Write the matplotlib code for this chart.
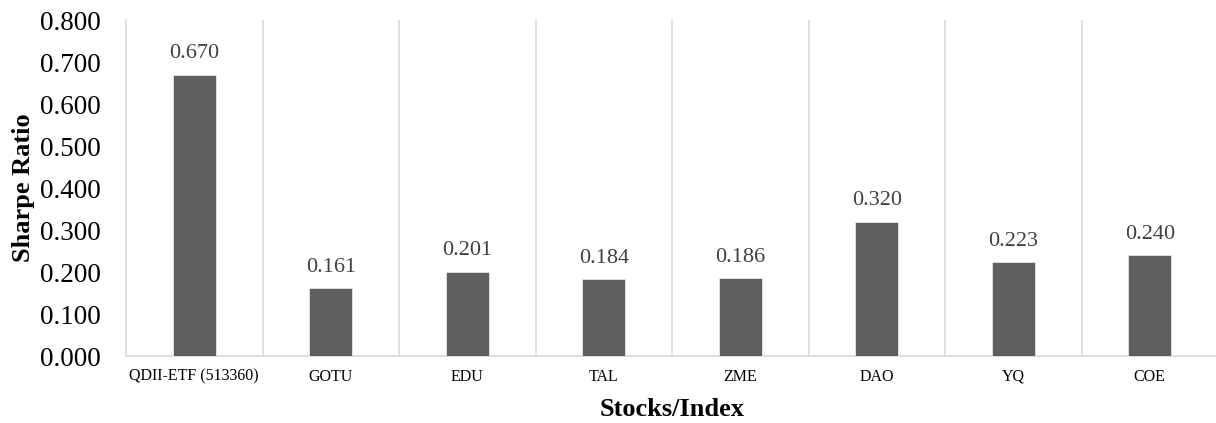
import matplotlib
matplotlib.use("Agg")
import matplotlib.pyplot as plt

categories = ["QDII-ETF (513360)", "GOTU", "EDU", "TAL", "ZME", "DAO", "YQ", "COE"]
sharpe = [0.670, 0.161, 0.201, 0.184, 0.186, 0.320, 0.223, 0.240]
yticks = [0.0, 0.1, 0.2, 0.3, 0.4, 0.5, 0.6, 0.7, 0.8]

plt.rcParams['font.family'] = ['Liberation Serif', 'DejaVu Serif']

fig = plt.figure(figsize=(12.16, 4.23), dpi=100)
ax = fig.add_axes([126/1216, 1 - 356/423, (1218 - 126)/1216, (356 - 20)/423])

x = list(range(len(categories)))
bars = ax.bar(x, sharpe, width=0.315, color="#5f5f5f", edgecolor="#e6e6e6", linewidth=0.6, zorder=3)

for xi, v in zip(x, sharpe):
    ax.annotate(f"{v:.3f}", (xi, v), xytext=(0, 8), textcoords="offset points",
                ha="center", va="bottom", fontsize=16, color="#404040")

ax.set_xlim(-0.5, len(categories) - 0.5)
ax.set_ylim(0, 0.8)
ax.set_yticks(yticks)
ax.set_yticklabels([f"{t:.3f}" for t in yticks], fontsize=19.5)
ax.set_xticks(x)
ax.set_xticklabels(categories, fontsize=11.5)

for b in [i + 0.5 for i in range(len(categories) - 1)]:
    ax.axvline(b, color="#d9d9d9", linewidth=1.2, zorder=1)

for s in ["top", "right"]:
    ax.spines[s].set_visible(False)
for s in ["left", "bottom"]:
    ax.spines[s].set_color("#d9d9d9")
    ax.spines[s].set_linewidth(1.2)
ax.tick_params(axis="both", length=0)
ax.tick_params(axis="x", pad=9)
ax.tick_params(axis="y", pad=18)

ax.set_ylabel("Sharpe Ratio", fontsize=19, fontweight="bold", labelpad=4)
ax.set_xlabel("Stocks/Index", fontsize=19, fontweight="bold", labelpad=10)

fig.savefig("out.png", dpi=100)
